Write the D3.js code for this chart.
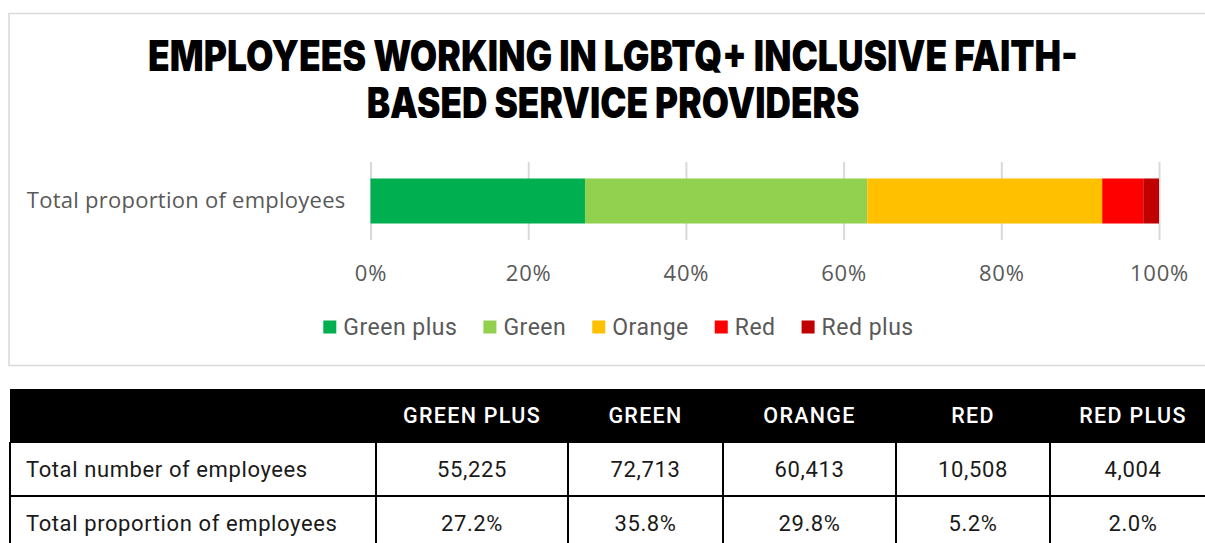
<!DOCTYPE html>
<html>
<head>
<meta charset="utf-8">
<script src="https://cdn.jsdelivr.net/npm/d3@7"></script>
<style>
  body { margin: 0; background: #fff; }
  svg { display: block; }
</style>
</head>
<body>
<div id="chart"></div>
<script>
// data
const categories = ['Green plus', 'Green', 'Orange', 'Red', 'Red plus'];
const colors = ['#00b050', '#92d050', '#ffc000', '#ff0000', '#c00000'];
const proportions = [27.2, 35.8, 29.8, 5.2, 2.0];
const employeeCounts = [55225, 72713, 60413, 10508, 4004];
const barLabel = 'Total proportion of employees';
const tickValues = [0, 20, 40, 60, 80, 100];
const titleLines = ['EMPLOYEES WORKING IN LGBTQ+ INCLUSIVE FAITH-', 'BASED SERVICE PROVIDERS'];
const tableRowLabels = ['Total number of employees', 'Total proportion of employees'];

const width = 1205, height = 543;
const grey = '#595959';

const svg = d3.select('#chart')
  .append('svg')
  .attr('width', width)
  .attr('height', height);

// chart frame
svg.append('rect')
  .attr('x', 9).attr('y', 13.5)
  .attr('width', 1230).attr('height', 352)
  .attr('fill', 'none')
  .attr('stroke', '#d9d9d9')
  .attr('stroke-width', 1.5);

// title - heavy display face is not available, so squeeze a black weight sideways
const titleLen = [930, 493];
const titles = svg.append('g').selectAll('text')
  .data(titleLines)
  .join('text')
  .attr('text-anchor', 'middle')
  .attr('font-family', 'Inter, Roboto, sans-serif')
  .attr('font-weight', 900)
  .attr('font-size', 42)
  .attr('fill', '#000')
  .text(d => d);
titles.attr('transform', function (d, i) {
  const sx = titleLen[i] / this.getComputedTextLength();
  return `translate(613, ${71 + i * 47}) scale(${sx}, 1)`;
});

// scales
const x = d3.scaleLinear().domain([0, 100]).range([370.5, 1159]);
const y = d3.scaleBand().domain([barLabel]).range([162, 240]).padding(0.268);

// gridlines + tick labels
const xAxisGroup = svg.append('g')
  .attr('transform', 'translate(0, 240)')
  .call(d3.axisBottom(x).tickValues(tickValues).tickSize(-78).tickPadding(25).tickFormat(d => d + '%'));
xAxisGroup.select('.domain').remove();
xAxisGroup.selectAll('line').attr('stroke', '#d9d9d9').attr('stroke-width', 2);
xAxisGroup.selectAll('text')
  .attr('font-family', '"Open Sans", sans-serif')
  .attr('font-size', 22)
  .attr('fill', grey)
  .attr('letter-spacing', 0.8);

// stacked bar
const row = {};
categories.forEach((c, i) => { row[c] = proportions[i]; });
const series = d3.stack().keys(categories)([row]);

svg.append('g').selectAll('rect')
  .data(series)
  .join('rect')
  .attr('x', d => x(d[0][0]))
  .attr('width', d => x(d[0][1]) - x(d[0][0]))
  .attr('y', y(barLabel))
  .attr('height', y.bandwidth())
  .attr('fill', (d, i) => colors[i]);

// category label
const yAxisGroup = svg.append('g')
  .attr('transform', `translate(${x(0)}, 0)`)
  .call(d3.axisLeft(y).tickSize(0).tickPadding(25));
yAxisGroup.select('.domain').remove();
yAxisGroup.selectAll('text')
  .attr('font-family', '"Open Sans", sans-serif')
  .attr('font-size', 22)
  .attr('letter-spacing', 0.25)
  .attr('fill', grey);

// legend
const legend = svg.append('g').attr('transform', 'translate(0, 327)');
const items = legend.selectAll('g')
  .data(categories)
  .join('g');
items.append('rect')
  .attr('width', 13).attr('height', 13)
  .attr('y', -6.5)
  .attr('fill', (d, i) => colors[i]);
items.append('text')
  .attr('x', 20)
  .attr('dy', '0.35em')
  .attr('font-family', 'Roboto, sans-serif')
  .attr('font-size', 23)
  .attr('letter-spacing', 0.5)
  .attr('fill', grey)
  .text(d => d);
let lx = 0;
const offsets = [];
items.each(function () {
  offsets.push(lx);
  lx += 20 + d3.select(this).select('text').node().getComputedTextLength() + 26;
});
const legendW = lx - 26;
const lx0 = 618.5 - legendW / 2;
items.attr('transform', (d, i) => `translate(${lx0 + offsets[i]}, 0)`);

// table
const colEdges = [10, 376, 568, 723, 896, 1050, 1216];
const rowEdges = [389, 442, 496, 550];
const fmt = d3.format(',');
const table = svg.append('g');

table.append('rect')
  .attr('x', colEdges[0]).attr('y', rowEdges[0])
  .attr('width', colEdges[6] - colEdges[0]).attr('height', rowEdges[1] - rowEdges[0])
  .attr('fill', '#000');

table.selectAll('text.head')
  .data(categories)
  .join('text')
  .attr('class', 'head')
  .attr('x', (d, i) => (colEdges[i + 1] + colEdges[i + 2]) / 2)
  .attr('y', (rowEdges[0] + rowEdges[1]) / 2)
  .attr('dy', '0.35em')
  .attr('text-anchor', 'middle')
  .attr('font-family', 'Roboto, sans-serif')
  .attr('font-weight', 500)
  .attr('font-size', 21.5)
  .attr('letter-spacing', 1.3)
  .attr('fill', '#fff')
  .text(d => d.toUpperCase());

const cellText = [
  employeeCounts.map(v => fmt(v)),
  proportions.map(v => v.toFixed(1) + '%')
];

tableRowLabels.forEach((label, r) => {
  const cy = (rowEdges[r + 1] + rowEdges[r + 2]) / 2;
  table.append('text')
    .attr('x', 26)
    .attr('y', cy)
    .attr('dy', '0.35em')
    .attr('font-family', 'Roboto, sans-serif')
    .attr('font-size', 22)
    .attr('letter-spacing', 0.6)
    .attr('fill', '#1a1a1a')
    .text(label);
  table.selectAll(null)
    .data(cellText[r])
    .join('text')
    .attr('x', (d, i) => (colEdges[i + 1] + colEdges[i + 2]) / 2)
    .attr('y', cy)
    .attr('dy', '0.35em')
    .attr('text-anchor', 'middle')
    .attr('font-family', 'Roboto, sans-serif')
    .attr('font-size', 22)
    .attr('letter-spacing', 0.6)
    .attr('fill', '#1a1a1a')
    .text(d => d);
});

// table grid lines
table.selectAll('line.h')
  .data(rowEdges.slice(1))
  .join('line')
  .attr('x1', colEdges[0]).attr('x2', colEdges[6])
  .attr('y1', d => d).attr('y2', d => d)
  .attr('stroke', '#000').attr('stroke-width', 2);
table.selectAll('line.v')
  .data(colEdges)
  .join('line')
  .attr('x1', d => d).attr('x2', d => d)
  .attr('y1', rowEdges[1]).attr('y2', rowEdges[3])
  .attr('stroke', '#000').attr('stroke-width', 2);
</script>
</body>
</html>
